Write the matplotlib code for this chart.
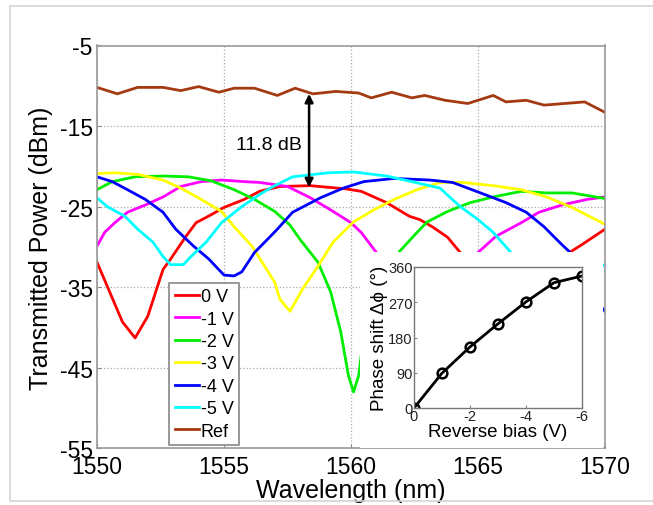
import matplotlib
matplotlib.use("Agg")
import matplotlib.pyplot as plt
from matplotlib.patches import Rectangle
import numpy as np

plt.rcParams['font.family'] = ['Liberation Sans', 'DejaVu Sans']
plt.rcParams['axes.unicode_minus'] = False

# ---- data ----
red_wl = [1550.0, 1550.5, 1551.0, 1551.5, 1552.0, 1552.6, 1552.9, 1553.5, 1553.9, 1554.5, 1555.0,
          1555.8, 1556.4, 1557.2, 1558.4, 1559.8, 1560.4, 1561.4, 1562.3, 1562.7, 1563.2, 1563.8,
          1564.3, 1565.3, 1566.5, 1567.8, 1568.6, 1569.1, 1570.0]
red_p = [-31.9, -35.6, -39.3, -41.3, -38.6, -32.8, -31.5, -28.7, -27.0, -26.0, -25.1,
         -24.1, -23.1, -22.5, -22.4, -22.8, -23.1, -24.5, -26.2, -26.6, -27.5, -28.8,
         -30.7, -35.0, -40.0, -35.0, -30.7, -29.7, -27.8]

mag_wl = [1550.0, 1550.3, 1550.7, 1551.2, 1551.9, 1552.6, 1553.3, 1554.1, 1554.9, 1555.8, 1556.4,
          1557.5, 1558.4, 1559.3, 1560.0, 1560.4, 1561.0, 1561.8, 1563.0, 1564.2, 1565.0, 1565.7,
          1566.7, 1567.4, 1568.3, 1569.3, 1570.0]
mag_p = [-29.9, -28.2, -27.0, -25.7, -24.8, -23.8, -22.5, -21.9, -21.7, -21.9, -22.0,
         -22.5, -23.9, -25.6, -27.0, -28.2, -30.7, -36.0, -42.0, -36.0, -30.7, -28.7,
         -27.0, -25.7, -24.8, -24.1, -23.8]

grn_wl = [1550.0, 1550.6, 1551.5, 1552.6, 1553.6, 1554.5, 1555.4, 1556.2, 1557.0, 1557.6, 1558.0,
          1558.7, 1559.2, 1559.6, 1559.9, 1560.1, 1560.3, 1560.4, 1561.0, 1561.9, 1562.6, 1563.0,
          1563.8, 1564.7, 1565.6, 1566.7, 1567.7, 1568.7, 1570.0]
grn_p = [-22.9, -21.9, -21.3, -21.2, -21.3, -21.8, -22.9, -24.1, -25.6, -27.3, -29.1,
         -31.9, -35.6, -40.6, -46.0, -48.0, -46.0, -43.5, -36.0, -30.6, -28.2, -26.9,
         -25.6, -24.5, -23.8, -23.1, -23.3, -23.3, -24.0]

yel_wl = [1550.0, 1550.7, 1551.6, 1552.6, 1553.3, 1554.1, 1554.9, 1555.4, 1556.1, 1556.6, 1557.0,
          1557.2, 1557.6, 1558.1, 1558.7, 1559.3, 1560.1, 1560.9, 1561.7, 1562.6, 1563.5, 1564.4,
          1565.6, 1566.7, 1567.7, 1568.7, 1570.0]
yel_p = [-20.9, -20.8, -21.0, -21.7, -22.7, -24.1, -25.6, -27.5, -29.9, -32.4, -34.4,
         -36.5, -38.0, -35.2, -32.4, -29.4, -26.9, -25.4, -24.1, -22.9, -22.0, -22.0,
         -22.4, -22.9, -23.8, -25.1, -27.2]

blu_wl = [1550.0, 1550.6, 1551.2, 1551.9, 1552.6, 1553.1, 1553.8, 1554.4, 1555.0, 1555.4, 1555.7,
          1556.2, 1556.7, 1557.1, 1557.7, 1558.8, 1559.7, 1560.5, 1561.7, 1563.1, 1564.0, 1565.1,
          1566.1, 1566.9, 1567.6, 1568.2, 1568.6, 1569.2, 1570.0]
blu_p = [-21.3, -21.9, -22.9, -24.1, -25.7, -27.8, -29.9, -31.5, -33.5, -33.6, -33.1,
         -30.7, -29.1, -27.8, -25.7, -23.9, -22.7, -21.9, -21.5, -21.7, -22.0, -23.3,
         -24.5, -25.7, -27.5, -29.4, -30.6, -35.0, -38.0]

cyn_wl = [1550.0, 1550.4, 1551.1, 1551.6, 1552.2, 1552.6, 1552.9, 1553.4, 1553.7, 1554.3, 1554.9,
          1555.7, 1556.5, 1557.0, 1557.7, 1559.1, 1560.1, 1561.4, 1562.4, 1563.5, 1564.3, 1565.0,
          1565.6, 1566.3, 1567.3, 1568.6, 1570.0]
cyn_p = [-23.9, -25.0, -26.2, -27.8, -29.4, -31.2, -32.2, -32.2, -31.2, -29.4, -27.0,
         -25.0, -23.3, -22.4, -21.3, -20.8, -20.7, -21.2, -21.9, -22.7, -25.0, -26.6,
         -28.2, -30.7, -36.0, -34.0, -32.2]

ref_wl = [1550.0, 1550.8, 1551.6, 1552.6, 1553.3, 1554.0, 1554.8, 1555.4, 1556.2, 1557.1, 1557.8,
          1558.5, 1559.4, 1560.3, 1560.8, 1561.6, 1562.4, 1562.9, 1563.7, 1564.6, 1565.6, 1566.1,
          1566.9, 1567.6, 1568.4, 1569.2, 1570.0]
ref_p = [-10.2, -11.0, -10.2, -10.2, -10.6, -10.1, -10.8, -10.3, -10.3, -11.2, -10.3,
         -11.0, -10.7, -10.9, -11.5, -10.8, -11.5, -11.2, -11.8, -12.2, -11.2, -12.0,
         -11.8, -12.4, -12.2, -12.0, -13.3]

series_labels = ['0 V', '-1 V', '-2 V', '-3 V', '-4 V', '-5 V', 'Ref']
series_colors = ['#ff0000', '#ff00ff', '#00ee00', '#ffff00', '#0000ff', '#00ffff', '#a53a12']

x_ticks = [1550, 1555, 1560, 1565, 1570]
y_ticks = [-5, -15, -25, -35, -45, -55]

# annotation
arrow_wl = 1558.35
arrow_top = -11.0
arrow_bottom = -22.6
arrow_text = '11.8 dB'
arrow_text_pos = (1556.75, -17.3)

# inset data
bias_v = [0, -1, -2, -3, -4, -5, -6]
phase_deg = [0, 89, 156, 215, 271, 320, 337]
inset_x_ticks = [0, -2, -4, -6]
inset_y_ticks = [0, 90, 180, 270, 360]

# ---- figure ----
W, H = 653, 506
fig = plt.figure(figsize=(W / 100, H / 100), dpi=100)
fig.patches.append(Rectangle((10 / W, 4 / H), 1.0, (H - 11) / H, transform=fig.transFigure,
                             facecolor='none', edgecolor='#d4d4d4', lw=1.2))

ax = fig.add_axes([97 / W, (H - 449.3) / H, 508 / W, 402.8 / H])
curves = [(red_wl, red_p), (mag_wl, mag_p), (grn_wl, grn_p), (yel_wl, yel_p),
          (blu_wl, blu_p), (cyn_wl, cyn_p), (ref_wl, ref_p)]
for (wl, p), lab, col in zip(curves, series_labels, series_colors):
    ax.plot(wl, p, color=col, lw=2.0, label=lab)

ax.set_xlim(1550, 1570)
ax.set_ylim(-55, -5)
ax.set_xticks(x_ticks)
ax.set_yticks(y_ticks)
ax.tick_params(axis='both', direction='in', length=3, labelsize=16.5, colors='#888888',
               labelcolor='black')
ax.tick_params(axis='x', pad=5)
ax.tick_params(axis='y', pad=3)
ax.grid(True, ls=':', color='#aaaaaa', lw=0.9)
for s in ax.spines.values():
    s.set_color('#999999')
    s.set_linewidth(1.2)
ax.set_xlabel('Wavelength (nm)', fontsize=18, labelpad=0)
ax.set_ylabel('Transmitted Power (dBm)', fontsize=18, labelpad=5)

ax.annotate('', xy=(arrow_wl, arrow_bottom), xytext=(arrow_wl, arrow_top),
            arrowprops=dict(arrowstyle='<|-|>', color='black', lw=1.8,
                            mutation_scale=12, shrinkA=0, shrinkB=0))
ax.text(arrow_text_pos[0], arrow_text_pos[1], arrow_text, ha='center', va='center', fontsize=14)

# white area behind inset
ax.add_patch(Rectangle((0.518, 0.0), 0.478, 0.487, transform=ax.transAxes,
                       facecolor='white', edgecolor='none', zorder=3))

leg = ax.legend(loc='lower left', bbox_to_anchor=(0.142, 0.008), fontsize=13,
                handlelength=1.35, handletextpad=0.1, labelspacing=0.3,
                borderpad=0.3, borderaxespad=0, fancybox=False, framealpha=1,
                edgecolor='#888888')
leg.set_zorder(6)
leg.get_frame().set_linewidth(1.2)

# inset
axi = fig.add_axes([414 / W, (H - 409) / H, 168 / W, 141 / H])
axi.plot(bias_v, phase_deg, color='black', lw=2, marker='o', ms=7, mfc='none', mew=1.8)
axi.set_xlim(0, -6)
axi.set_ylim(0, 360)
axi.set_xticks(inset_x_ticks)
axi.set_yticks(inset_y_ticks)
axi.tick_params(direction='in', length=2, labelsize=10.5, pad=1, colors='#888888', labelcolor='#222222')
for s in axi.spines.values():
    s.set_color('#777777')
    s.set_linewidth(1.0)
axi.set_xlabel('Reverse bias (V)', fontsize=13.5, labelpad=0)
axi.set_ylabel('Phase shift Δϕ (°)', fontsize=13.5, labelpad=0)

fig.savefig('out.png', dpi=100)
